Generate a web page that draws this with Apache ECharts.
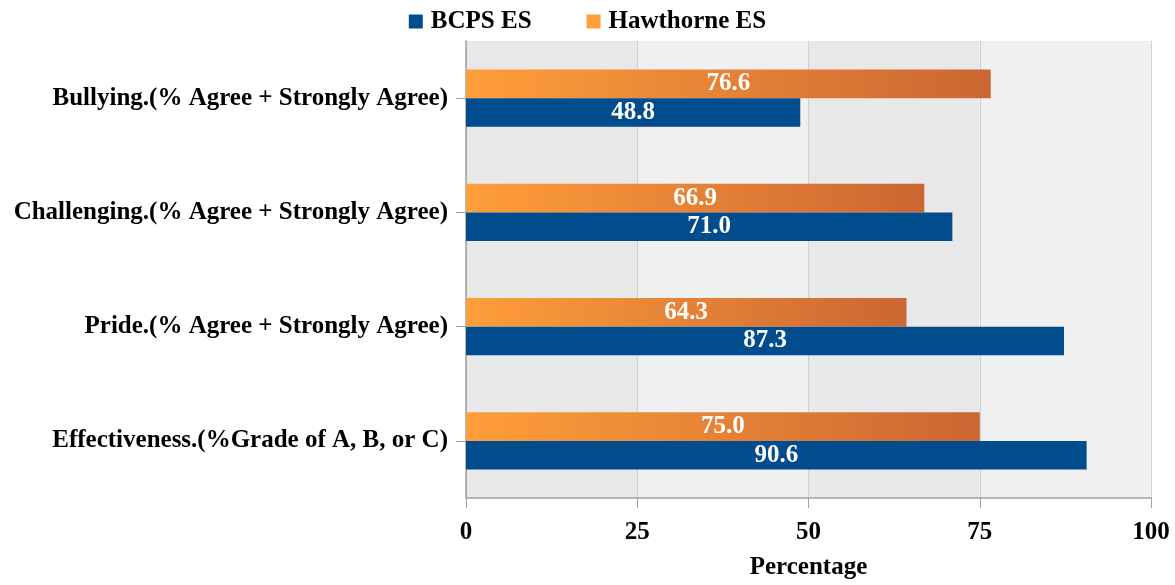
<!DOCTYPE html>
<html>
<head>
<meta charset="utf-8">
<script src="https://cdn.jsdelivr.net/npm/echarts@6/dist/echarts.min.js"></script>
<style>html,body{margin:0;padding:0;background:#fff;}#c{width:1175px;height:585px;}</style>
</head>
<body>
<div id="c"></div>
<script>
const categories = [
  'Effectiveness.(%Grade of A, B, or C)',
  'Pride.(% Agree + Strongly Agree)',
  'Challenging.(% Agree + Strongly Agree)',
  'Bullying.(% Agree + Strongly Agree)'
];
const seriesNames = ['BCPS ES', 'Hawthorne ES'];
const bcpsValues = [90.6, 87.3, 71.0, 48.8];
const hawthorneValues = [75.0, 64.3, 66.9, 76.6];
const xTicks = [0, 25, 50, 75, 100];

const FONT = '"Liberation Serif", "Times New Roman", serif';
const chart = echarts.init(document.getElementById('c'));
const labelCfg = {
  show: true, position: 'inside', color: '#fff', fontFamily: FONT,
  fontWeight: 'bold', fontSize: 25, formatter: p => p.value.toFixed(1)
};
chart.setOption({
  animation: false,
  textStyle: { fontFamily: FONT },
  legend: {
    top: 4, left: 'center', itemWidth: 14, itemHeight: 14, itemGap: 55,
    icon: 'rect',
    textStyle: { fontFamily: FONT, fontWeight: 'bold', fontSize: 25, color: '#000', padding: [0, 0, 0, 3] },
    data: [
      { name: seriesNames[0], itemStyle: { color: '#004C8C' } },
      { name: seriesNames[1], itemStyle: { color: '#FF9E3A' } }
    ]
  },
  grid: { left: 466, right: 24, top: 41, bottom: 85, containLabel: false },
  xAxis: {
    type: 'value', min: xTicks[0], max: xTicks[xTicks.length - 1], interval: 25,
    name: 'Percentage', nameLocation: 'middle', nameGap: 57,
    nameTextStyle: { fontFamily: FONT, fontWeight: 'bold', fontSize: 25, color: '#000' },
    axisLine: { show: true, lineStyle: { color: '#A0A0A0', width: 1.5 } },
    axisTick: { show: true, length: 10, lineStyle: { color: '#A0A0A0' } },
    axisLabel: { fontFamily: FONT, fontWeight: 'bold', fontSize: 25, color: '#000', margin: 22 },
    splitLine: { show: true, lineStyle: { color: '#D0D0D0', width: 1 } },
    splitArea: { show: true, areaStyle: { color: ['#E8E8E8', '#F0F0F0'] } }
  },
  yAxis: {
    type: 'category', data: categories,
    axisLine: { show: true, lineStyle: { color: '#A0A0A0', width: 1.5 } },
    axisTick: { show: true, length: 10, alignWithLabel: true, lineStyle: { color: '#A0A0A0' } },
    axisLabel: { fontFamily: FONT, fontWeight: 'bold', fontSize: 25, color: '#000', margin: 18 },
    splitLine: { show: false }
  },
  series: [
    {
      name: seriesNames[1], type: 'bar', data: hawthorneValues,
      barCategoryGap: '50%', barGap: '0%',
      itemStyle: {
        color: new echarts.graphic.LinearGradient(0, 0, 1, 0, [
          { offset: 0, color: '#FF9E3A' }, { offset: 1, color: '#CC6633' }
        ])
      },
      label: labelCfg
    },
    {
      name: seriesNames[0], type: 'bar', data: bcpsValues,
      barCategoryGap: '50%', barGap: '0%',
      itemStyle: { color: '#004C8C' }, label: labelCfg
    }
  ]
});
</script>
</body>
</html>
